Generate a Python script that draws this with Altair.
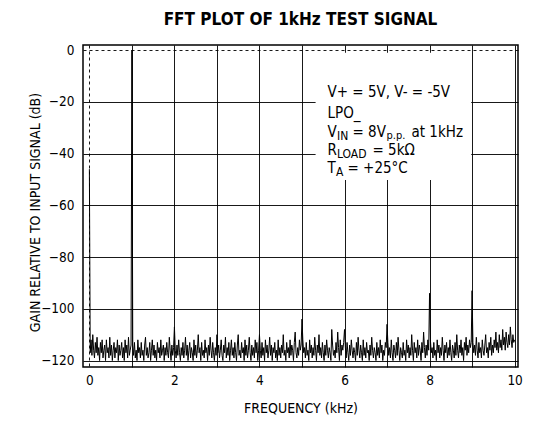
import altair as alt
import pandas as pd

# ---------------- data ----------------
title_text = "FFT PLOT OF 1kHz TEST SIGNAL"
x_title = "FREQUENCY (kHz)"
y_title = "GAIN RELATIVE TO INPUT SIGNAL (dB)"

bin_width_khz = 0.02  # FFT bin spacing

# gain (dB) per FFT bin; 50 bins per kHz, first value of each block = integer kHz bin
gain_db = [
    # 0 kHz
    -46, -117, -112, -118, -110, -116, -119, -113, -117, -111,
    -118, -115, -120, -113, -117, -112, -119, -116, -114, -120,
    -112, -117, -115, -119, -111, -118, -114, -120, -116, -113,
    -119, -115, -117, -112, -120, -114, -118, -116, -113, -119,
    -115, -120, -112, -117, -114, -119, -111, -118, -116, -114,
    # 1 kHz
    0, -114, -118, -113, -119, -116, -120, -112, -117, -115,
    -119, -113, -118, -116, -120, -114, -111, -118, -115, -119,
    -117, -113, -120, -116, -112, -118, -114, -119, -116, -120,
    -113, -117, -115, -119, -112, -118, -116, -114, -120, -115,
    -118, -113, -117, -119, -111, -116, -120, -114, -118, -115,
    # 2 kHz
    -107, -116, -119, -114, -118, -112, -117, -120, -115, -118,
    -113, -119, -116, -111, -118, -114, -120, -116, -113, -119,
    -115, -117, -120, -112, -118, -114, -119, -116, -110, -117,
    -115, -120, -113, -118, -116, -119, -112, -117, -115, -120,
    -114, -118, -111, -116, -119, -113, -117, -120, -115, -118,
    # 3 kHz
    -110, -117, -114, -119, -116, -112, -118, -120, -114, -117,
    -111, -119, -115, -118, -113, -120, -116, -112, -118, -115,
    -119, -113, -117, -120, -114, -110, -118, -116, -119, -113,
    -117, -115, -120, -112, -118, -114, -119, -116, -111, -117,
    -120, -114, -118, -115, -119, -112, -117, -113, -120, -116,
    # 4 kHz
    -110, -116, -119, -113, -118, -115, -120, -112, -117, -114,
    -119, -116, -111, -118, -114, -120, -115, -117, -113, -119,
    -116, -120, -112, -118, -115, -119, -114, -117, -110, -118,
    -116, -120, -113, -117, -115, -119, -112, -118, -114, -116,
    -120, -113, -109, -117, -119, -115, -118, -112, -116, -114,
    # 5 kHz
    -104, -112, -117, -115, -119, -113, -118, -116, -120, -112,
    -117, -114, -119, -115, -118, -111, -116, -120, -114, -117,
    -110, -118, -115, -119, -113, -117, -120, -114, -118, -112,
    -116, -119, -115, -117, -120, -108, -114, -118, -116, -119,
    -113, -117, -109, -115, -120, -112, -118, -114, -116, -113,
    # 6 kHz
    -108, -115, -119, -113, -117, -120, -114, -118, -112, -116,
    -119, -115, -117, -120, -113, -118, -111, -116, -119, -114,
    -117, -120, -112, -118, -115, -119, -113, -117, -116, -120,
    -114, -118, -111, -116, -119, -115, -117, -120, -113, -118,
    -115, -119, -112, -117, -114, -120, -116, -118, -113, -115,
    # 7 kHz
    -106, -113, -118, -115, -119, -112, -117, -120, -114, -116,
    -119, -113, -118, -111, -116, -120, -115, -117, -119, -113,
    -118, -116, -120, -112, -117, -114, -119, -115, -118, -110,
    -116, -120, -113, -117, -115, -119, -112, -118, -114, -116,
    -120, -113, -117, -109, -115, -119, -114, -118, -112, -116,
    # 8 kHz
    -94, -112, -117, -115, -119, -113, -118, -116, -120, -112,
    -117, -114, -119, -115, -118, -111, -116, -120, -114, -117,
    -113, -119, -115, -118, -112, -117, -120, -114, -116, -119,
    -113, -118, -110, -116, -119, -114, -117, -112, -118, -115,
    -120, -113, -116, -111, -118, -114, -117, -112, -115, -113,
    # 9 kHz
    -93, -113, -117, -114, -118, -111, -116, -119, -113, -117,
    -115, -119, -112, -116, -118, -114, -110, -117, -115, -119,
    -113, -116, -111, -118, -114, -117, -112, -115, -109, -116,
    -113, -117, -110, -115, -112, -116, -108, -114, -111, -116,
    -109, -113, -115, -110, -114, -107, -112, -115, -110, -113,
    # 10 kHz
    -112,
]
freq_khz = [round(i * bin_width_khz, 2) for i in range(len(gain_db))]

x_ticks = [0, 1, 2, 3, 4, 5, 6, 7, 8, 9, 10]
y_ticks = [0, -20, -40, -60, -80, -100, -120]
x_domain = [-0.15, 10.08]
y_domain = [-122.5, 2]

# annotation text
ann_line1 = "V+ = 5V, V- = -5V"
ann_line2 = "LPO_"
ann_vin = ["V", "IN", "= 8V", "p.p.", "at 1kHz"]
ann_rload = ["R", "LOAD", "= 5k\u03a9"]
ann_ta = ["T", "A", "= +25\u00b0C"]

# ---------------- chart ----------------
FONT = "DejaVu Sans Condensed, Liberation Sans Narrow, sans-serif"

df = pd.DataFrame({"freq": freq_khz, "gain": gain_db})

xscale = alt.Scale(domain=x_domain, nice=False, zero=False)
yscale = alt.Scale(domain=y_domain, nice=False, zero=False)

line = alt.Chart(df).mark_line(
    color="black", strokeWidth=1, clip=True
).encode(
    x=alt.X(
        "freq:Q",
        scale=xscale,
        axis=alt.Axis(
            values=x_ticks,
            labelExpr="datum.value % 2 == 0 ? datum.label : ''",
            title=x_title,
            ticks=False,
            domain=False,
            labelPadding=6,
            titlePadding=15,
            gridDash={"condition": {"test": "datum.value === 0", "value": [3, 3]}, "value": []},
        ),
    ),
    y=alt.Y(
        "gain:Q",
        scale=yscale,
        axis=alt.Axis(
            values=y_ticks,
            title=y_title,
            ticks=False,
            domain=False,
            labelPadding=9,
            titleX=-48,
            titleY=167,
            titleBaseline="middle",
            gridDash={"condition": {"test": "datum.value === 0", "value": [3, 3]}, "value": []},
        ),
    ),
)

# white backing behind the condition text (hides the grid there, as in the reference)
text_box = alt.Chart(pd.DataFrame({"k": [0]})).mark_rect(color="white").encode(
    x=alt.datum(5.32), x2=alt.datum(8.98), y=alt.datum(-1.0), y2=alt.datum(-50.2)
)

AX = 5.6
BIG = 15
SUB = 12


def txt(s, y, dx=0, dy=0, size=BIG):
    return alt.Chart(pd.DataFrame({"label": [s]})).mark_text(
        align="left", baseline="alphabetic", font=FONT, fontSize=size,
        color="black", dx=dx, dy=dy,
    ).encode(x=alt.datum(AX), y=alt.datum(y), text="label:N")


layers = [
    text_box,
    line,
    txt(ann_line1, -18.1),
    txt(ann_line2, -26.2),
    txt(ann_vin[0], -33.6),
    txt(ann_vin[1], -33.6, dx=9.5, dy=3, size=SUB),
    txt(ann_vin[2], -33.6, dx=25),
    txt(ann_vin[3], -33.6, dx=59, dy=2, size=11),
    txt(ann_vin[4], -33.6, dx=84),
    txt(ann_rload[0], -40.7),
    txt(ann_rload[1], -40.7, dx=9.5, dy=3, size=SUB),
    txt(ann_rload[2], -40.7, dx=45),
    txt(ann_ta[0], -47.6),
    txt(ann_ta[1], -47.6, dx=8.5, dy=3, size=SUB),
    txt(ann_ta[2], -47.6, dx=20),
]

chart = (
    alt.layer(*layers)
    .properties(
        width=435,
        height=322,
        background="white",
        autosize=alt.AutoSizeParams(type="none"),
        padding={"left": 75, "top": 37, "right": 7, "bottom": 55},
        title=alt.TitleParams(
            title_text, font=FONT, fontSize=17, fontWeight="bold",
            color="black", anchor="middle", offset=14,
        ),
    )
    .configure_view(stroke="black", strokeWidth=1.5)
    .configure_axis(
        grid=True,
        gridColor="black",
        gridOpacity=0.9,
        gridWidth=1,
        labelFont=FONT,
        labelFontSize=13.5,
        labelColor="black",
        titleFont=FONT,
        titleFontSize=14,
        titleFontWeight="normal",
        titleColor="black",
    )
)

chart.save("out.html", embed_options={"renderer": "svg", "actions": False})
